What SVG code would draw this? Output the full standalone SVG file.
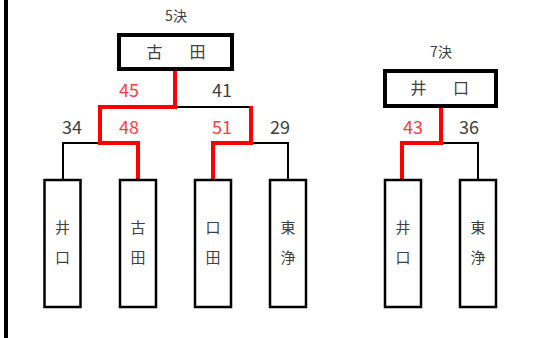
<svg xmlns="http://www.w3.org/2000/svg" width="533" height="338" viewBox="0 0 533 338">
<style>
text{font-family:"Noto Sans CJK JP","Liberation Sans",sans-serif;fill:#404040;text-anchor:middle}
.lbl{font-size:14px}
.num{font-size:18px}
.win{fill:#FF3B3B}
.top{fill:#fff;stroke:#000;stroke-width:4}
.leaf{fill:#fff;stroke:#000;stroke-width:2.5}
.name{font-size:16px}
.lname{font-size:15px}
.bl{fill:none;stroke:#000;stroke-width:2}
.rd{fill:none;stroke:#FF0000;stroke-width:4;stroke-linejoin:miter}
</style>
<rect width="533" height="338" fill="#fff"/>
<line x1="6" y1="0" x2="6" y2="338" stroke="#000" stroke-width="4"/>
<g id="connectors">
<polyline class="bl" points="175,107 251,107"/>
<polyline class="bl" points="100,143 63,143 63,180"/>
<polyline class="bl" points="251,143 288,143 288,180"/>
<polyline class="bl" points="441,143 478,143 478,180"/>
<polyline class="rd" points="175,70 175,107 100,107 100,143 138,143 138,180"/>
<polyline class="rd" points="251,106 251,143 213,143 213,180"/>
<polyline class="rd" points="441,107 441,143 402,143 402,180"/>
</g>
<g id="labels">
<text class="lbl" x="176" y="21">5決</text>
<text class="lbl" x="441" y="57">7決</text>
<text class="num win" x="129" y="97">45</text>
<text class="num" x="222" y="97">41</text>
<text class="num" x="72" y="134">34</text>
<text class="num win" x="129" y="134">48</text>
<text class="num win" x="222" y="134">51</text>
<text class="num" x="280" y="134">29</text>
<text class="num win" x="413" y="134">43</text>
<text class="num" x="469" y="134">36</text>
</g>
<g id="final5">
<rect class="top" x="119" y="35" width="113" height="34"/>
<text class="name" x="154.5 176 197.5" y="58">古　田</text>
</g>
<g id="final7">
<rect class="top" x="385" y="71" width="111" height="35"/>
<text class="name" x="418.5 440 461" y="94">井　口</text>
</g>
<g id="leaf1"><rect class="leaf" x="44.5" y="180" width="36" height="127"/><text class="lname"><tspan x="62.5" y="233">井</tspan><tspan x="62.5" y="263">口</tspan></text></g>
<g id="leaf2"><rect class="leaf" x="120" y="180" width="36" height="127"/><text class="lname"><tspan x="138" y="233">古</tspan><tspan x="138" y="263">田</tspan></text></g>
<g id="leaf3"><rect class="leaf" x="195" y="180" width="36" height="127"/><text class="lname"><tspan x="213" y="233">口</tspan><tspan x="213" y="263">田</tspan></text></g>
<g id="leaf4"><rect class="leaf" x="270" y="180" width="36" height="127"/><text class="lname"><tspan x="288" y="233">東</tspan><tspan x="288" y="263">浄</tspan></text></g>
<g id="leaf5"><rect class="leaf" x="385" y="180" width="36" height="127"/><text class="lname"><tspan x="403" y="233">井</tspan><tspan x="403" y="263">口</tspan></text></g>
<g id="leaf6"><rect class="leaf" x="460" y="180" width="36" height="127"/><text class="lname"><tspan x="478" y="233">東</tspan><tspan x="478" y="263">浄</tspan></text></g>
</svg>
